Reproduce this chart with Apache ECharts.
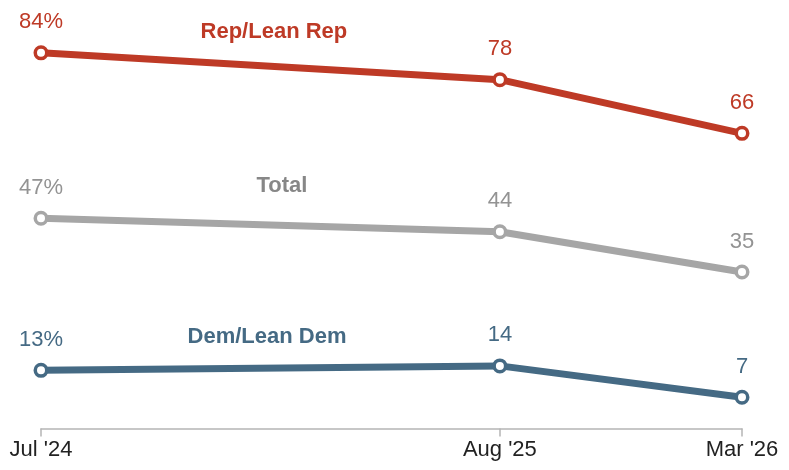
<!DOCTYPE html>
<html>
<head>
<meta charset="utf-8">
<script src="https://cdn.jsdelivr.net/npm/echarts@6/dist/echarts.min.js"></script>
<style>html,body{margin:0;padding:0;background:#fff}#c{width:789px;height:470px}</style>
</head>
<body>
<div id="c"></div>
<script>
// Survey waves (approximate field dates) and their tick labels
const waves = ['2024-07-08', '2025-08-10', '2026-03-08'];
const tickLabels = ["Jul '24", "Aug '25", "Mar '26"];
// Series values (%)
const repValues = [84, 78, 66];
const totalValues = [47, 44, 35];
const demValues = [13, 14, 7];
// Series names
const seriesNames = ['Rep/Lean Rep', 'Total', 'Dem/Lean Dem'];
// Name label anchors in data space [days since first wave, value]
const nameAnchors = [[202, 88.6], [209, 54.2], [196, 20.4]];

const DAY = 86400000;
function dayIndex(s) {
  return Math.round((Date.parse(s) - Date.parse(waves[0])) / DAY);
}
const xs = waves.map(dayIndex);

const FONT = '"Liberation Sans", Arial, sans-serif';
const colors = ['#BE3A26', '#A6A6A6', '#456A84'];
const labelColors = ['#BE3A26', '#939393', '#456A84'];
const nameColors = ['#BE3A26', '#878787', '#456A84'];
const allValues = [repValues, totalValues, demValues];

const series = allValues.map((vals, i) => ({
  name: seriesNames[i],
  type: 'line',
  data: vals.map((v, j) => [xs[j], v]),
  symbol: 'circle',
  symbolSize: 11.5,
  lineStyle: { width: 7, color: colors[i] },
  itemStyle: { color: '#fff', borderColor: colors[i], borderWidth: 3.5 },
  label: {
    show: true,
    position: 'top',
    distance: 12,
    color: labelColors[i],
    fontFamily: FONT,
    fontSize: 22,
    formatter: p => p.dataIndex === 0 ? p.value[1] + '%' : String(p.value[1])
  },
  markPoint: {
    symbol: 'circle',
    symbolSize: 0,
    silent: true,
    data: [{
      coord: nameAnchors[i],
      label: {
        show: true,
        position: 'inside',
        formatter: seriesNames[i],
        color: nameColors[i],
        fontFamily: FONT,
        fontSize: 22,
        fontWeight: 'bold'
      }
    }]
  },
  animation: false,
  z: 3 - i
}));

const chart = echarts.init(document.getElementById('c'), null, { renderer: 'canvas' });
chart.setOption({
  animation: false,
  grid: { left: 41, right: 47, top: 26, bottom: 41.5, containLabel: false },
  xAxis: {
    type: 'value',
    min: xs[0],
    max: xs[xs.length - 1],
    splitLine: { show: false },
    axisLine: { show: true, lineStyle: { color: '#B5B5B5', width: 1.5 } },
    axisTick: { show: true, customValues: xs, length: 8, inside: false, lineStyle: { color: '#B5B5B5', width: 1.5 } },
    axisLabel: {
      customValues: xs,
      formatter: v => tickLabels[xs.indexOf(v)],
      color: '#222',
      fontFamily: FONT,
      fontSize: 22,
      margin: 10
    }
  },
  yAxis: {
    type: 'value',
    min: 0,
    max: 90,
    show: false,
    splitLine: { show: false }
  },
  series
});
</script>
</body>
</html>
